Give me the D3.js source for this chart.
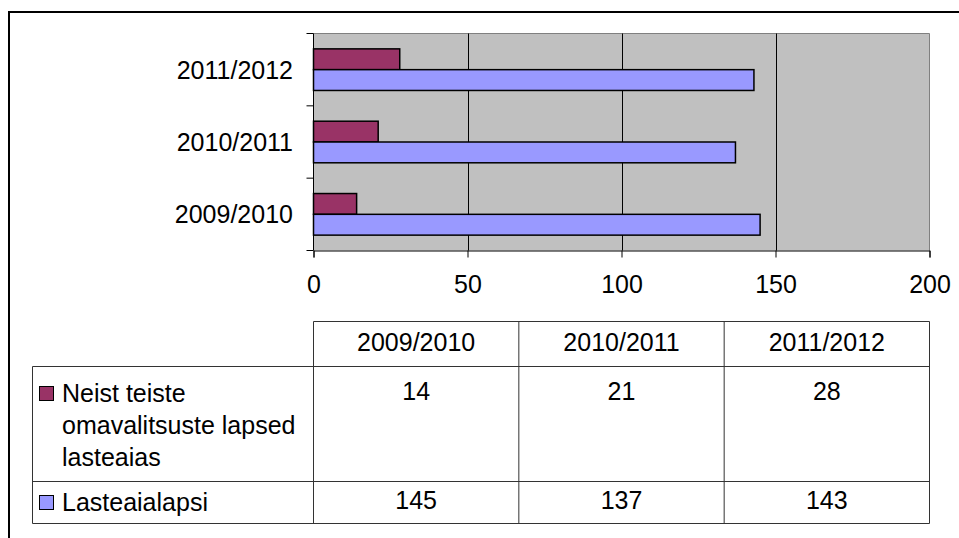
<!DOCTYPE html>
<html>
<head>
<meta charset="utf-8">
<script src="https://cdn.jsdelivr.net/npm/d3@7"></script>
<style>
  body { margin: 0; background: #fff; }
  svg { display: block; font-family: "Liberation Sans", Arial, sans-serif; }
</style>
</head>
<body>
<svg id="chart" width="959" height="538"></svg>
<script>
// data
var categories = ['2009/2010', '2010/2011', '2011/2012'];
var seriesNames = ['Neist teiste omavalitsuste lapsed lasteaias', 'Lasteaialapsi'];
var seriesLines = [['Neist teiste', 'omavalitsuste lapsed', 'lasteaias'], ['Lasteaialapsi']];
var neistValues = [14, 21, 28];
var lasteaiaValues = [145, 137, 143];
var xTicks = [0, 50, 100, 150, 200];
var colours = ['#993366', '#9999ff'];

var seriesValues = [neistValues, lasteaiaValues];

var svg = d3.select('#chart');

// outer frame (right and bottom fall outside the picture)
svg.append('rect')
  .attr('x', 9).attr('y', 12)
  .attr('width', 980).attr('height', 560)
  .attr('fill', 'none').attr('stroke', '#000').attr('stroke-width', 2);

var pLeft = 313.5, pRight = 929.5, pTop = 33.5, pBottom = 250.5;

var x = d3.scaleLinear().domain([0, 200]).range([pLeft, pRight]);
var y = d3.scaleBand().domain(categories.slice().reverse()).range([pTop, pBottom])
  .paddingInner(0.425).paddingOuter(0.2125);
var ySub = d3.scaleBand().domain(d3.range(seriesNames.length)).range([0, y.bandwidth()]);

// plot area
svg.append('rect')
  .attr('x', pLeft).attr('y', pTop)
  .attr('width', pRight - pLeft).attr('height', pBottom - pTop)
  .attr('fill', '#c0c0c0');
svg.append('path')
  .attr('d', 'M' + pLeft + ',' + pTop + 'H' + pRight + 'V' + pBottom)
  .attr('fill', 'none').attr('stroke', '#808080').attr('stroke-width', 1);

// gridlines
svg.append('g').selectAll('line')
  .data(xTicks.slice(1, -1))
  .enter().append('line')
  .attr('x1', function (d) { return Math.round(x(d)) + 0.5; })
  .attr('x2', function (d) { return Math.round(x(d)) + 0.5; })
  .attr('y1', pTop).attr('y2', pBottom)
  .attr('stroke', '#000').attr('stroke-width', 1);

// bars
var groups = svg.append('g').selectAll('g')
  .data(categories)
  .enter().append('g')
  .attr('transform', function (d) { return 'translate(0,' + y(d) + ')'; });

groups.selectAll('rect')
  .data(function (d, i) {
    return seriesValues.map(function (vals, s) { return { s: s, v: vals[i] }; });
  })
  .enter().append('rect')
  .attr('x', x(0))
  .attr('y', function (d) { return ySub(d.s); })
  .attr('width', function (d) { return x(d.v) - x(0); })
  .attr('height', ySub.bandwidth())
  .attr('fill', function (d) { return colours[d.s]; })
  .attr('stroke', '#000').attr('stroke-width', 1.5);

// x axis
var xAxis = svg.append('g')
  .attr('transform', 'translate(0,' + pBottom + ')')
  .call(d3.axisBottom(x).tickValues(xTicks).tickSize(7).tickPadding(18));
xAxis.select('.domain').attr('stroke', '#000');
xAxis.selectAll('.tick line').attr('stroke', '#000');
xAxis.selectAll('text').attr('font-size', 25).attr('font-family', null).attr('fill', '#000');

// y axis: ticks at the band edges
var yEdges = d3.range(categories.length + 1).map(function (i) {
  return pTop + i * y.step();
});
var yAxis = svg.append('g');
yAxis.append('line')
  .attr('x1', pLeft).attr('x2', pLeft).attr('y1', pTop).attr('y2', pBottom)
  .attr('stroke', '#000');
yAxis.selectAll('.edge')
  .data(yEdges)
  .enter().append('line')
  .attr('x1', pLeft - 7).attr('x2', pLeft)
  .attr('y1', function (d) { return d; }).attr('y2', function (d) { return d; })
  .attr('stroke', '#000');
yAxis.selectAll('text')
  .data(categories)
  .enter().append('text')
  .attr('x', 293)
  .attr('y', function (d) { return y(d) + y.bandwidth() / 2 + 9; })
  .attr('text-anchor', 'end')
  .attr('font-size', 25)
  .text(function (d) { return d; });

// data table
var col = d3.scaleBand().domain(categories).range([pLeft, pRight]);
var tLeft = 32.5, tHead = 321.5, tRow1 = 366.5, tRow2 = 481.5, tBottom = 523.5;
var lineColour = '#333';
var table = svg.append('g').attr('stroke', lineColour).attr('stroke-width', 1);

table.append('line').attr('x1', pLeft).attr('x2', pRight).attr('y1', tHead).attr('y2', tHead);
[tRow1, tRow2, tBottom].forEach(function (yy) {
  table.append('line').attr('x1', tLeft).attr('x2', pRight).attr('y1', yy).attr('y2', yy);
});
table.append('line').attr('x1', tLeft).attr('x2', tLeft).attr('y1', tRow1).attr('y2', tBottom);
categories.concat(['end']).forEach(function (c, i) {
  var xx = i < categories.length ? col(c) : pRight;
  table.append('line').attr('x1', xx).attr('x2', xx).attr('y1', tHead).attr('y2', tBottom);
});

// header
svg.append('g').selectAll('text')
  .data(categories)
  .enter().append('text')
  .attr('x', function (d) { return col(d) + col.bandwidth() / 2; })
  .attr('y', 350.5)
  .attr('text-anchor', 'middle')
  .attr('font-size', 25)
  .text(function (d) { return d; });

// rows
var rowBase = [402, 511];
seriesNames.forEach(function (name, s) {
  var g = svg.append('g');
  g.append('rect')
    .attr('x', 39.5).attr('y', rowBase[s] - 15.5)
    .attr('width', 14).attr('height', 14)
    .attr('fill', colours[s]).attr('stroke', '#000').attr('stroke-width', 1);
  g.selectAll('.lbl')
    .data(seriesLines[s])
    .enter().append('text')
    .attr('x', 62)
    .attr('y', function (d, i) { return rowBase[s] + i * 32; })
    .attr('font-size', 25)
    .text(function (d) { return d; });
  g.selectAll('.val')
    .data(seriesValues[s])
    .enter().append('text')
    .attr('x', function (d, i) { return col(categories[i]) + col.bandwidth() / 2; })
    .attr('y', rowBase[s] - 2)
    .attr('text-anchor', 'middle')
    .attr('font-size', 25)
    .text(function (d) { return d; });
});
</script>
</body>
</html>
